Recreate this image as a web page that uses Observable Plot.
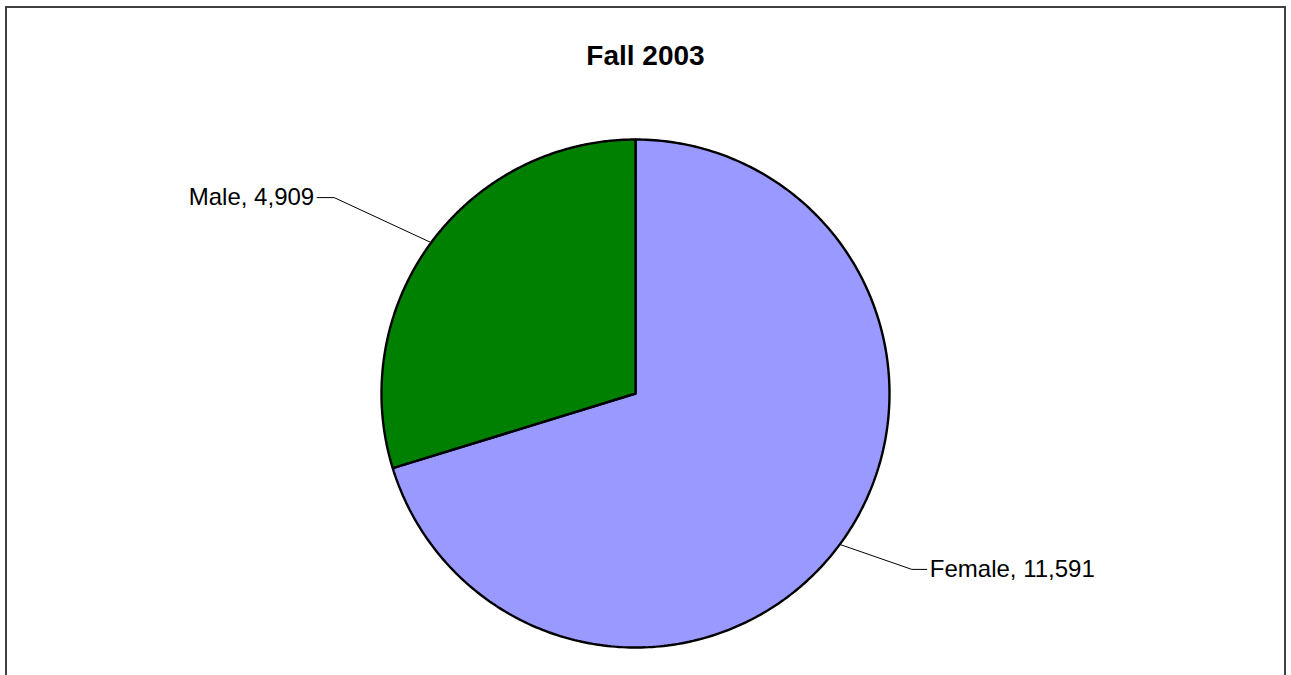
<!DOCTYPE html>
<html>
<head>
<meta charset="utf-8">
<script src="https://cdn.jsdelivr.net/npm/d3@7"></script>
<script src="https://cdn.jsdelivr.net/npm/@observablehq/plot@0.6"></script>
<style>
  html, body { margin: 0; padding: 0; background: #fff; overflow: hidden; }
  #wrap { position: relative; width: 1291px; height: 675px; }
  #frame { position: absolute; left: 5px; top: 6px; width: 1281px; height: 700px;
           border: 2px solid #404040; border-bottom: none; box-sizing: border-box; }
  #title { position: absolute; left: 5px; width: 1281px; top: 40px; text-align: center;
           font: bold 28px Arial, "Liberation Sans", sans-serif; line-height: 32px; color: #000; }
  #chart { position: absolute; left: 0; top: 0; }
</style>
</head>
<body>
<div id="wrap">
  <div id="frame"></div>
  <div id="title">Fall 2003</div>
  <div id="chart"></div>
</div>
<script>
// ---- data ----
const categories = ["Female", "Male"];
const values = [11591, 4909];
const sliceColors = ["#9999FF", "#008000"];
const title = "Fall 2003";

// ---- layout constants ----
const W = 1291, H = 675;
const cx = 635, cy = 393, R = 254;

const pie = d3.pie().sort(null).value(d => d.value)(categories.map((c, i) => ({name: c, value: values[i]})));

// polygon points for each slice, in unit-circle coordinates (y up)
const pts = [];
for (const a of pie) {
  const name = a.data.name;
  pts.push({name, x: 0, y: 0});
  const n = 300;
  for (let k = 0; k <= n; k++) {
    const t = a.startAngle + (a.endAngle - a.startAngle) * k / n;
    pts.push({name, x: Math.sin(t), y: Math.cos(t)});
  }
  pts.push({name, x: 0, y: 0});
}

// leader lines and labels (pixel offsets converted to unit coords)
const offsets = {
  Female: {elbow: [72, 25], run: 15, anchor: "start"},
  Male:   {elbow: [-97, -45], run: -17, anchor: "end"}
};
const leaders = [];
const labels = [];
for (const a of pie) {
  const name = a.data.name;
  const m = (a.startAngle + a.endAngle) / 2;
  const ex = Math.sin(m), ey = Math.cos(m);
  const o = offsets[name];
  const bx = ex + o.elbow[0] / R, by = ey - o.elbow[1] / R;
  const tx = bx + o.run / R;
  leaders.push({name, x: ex, y: ey}, {name, x: bx, y: by}, {name, x: tx, y: by});
  labels.push({name, x: tx + Math.sign(o.run) * 3 / R, y: by,
               text: `${name}, ${d3.format(",")(a.data.value)}`, anchor: o.anchor});
}

const plot = Plot.plot({
  width: W,
  height: H,
  margin: 0,
  x: {domain: [-1, 1], range: [cx - R, cx + R], axis: null},
  y: {domain: [-1, 1], range: [cy + R, cy - R], axis: null},
  color: {domain: categories, range: sliceColors},
  style: {background: "transparent", fontFamily: "Arial, 'Liberation Sans', sans-serif"},
  marks: [
    Plot.line(pts, {x: "x", y: "y", z: "name", fill: "name", stroke: "#000",
                    strokeWidth: 2.4, strokeLinejoin: "miter", curve: "linear"}),
    Plot.line(leaders, {x: "x", y: "y", z: "name", stroke: "#000", strokeWidth: 1, curve: "linear"}),
    Plot.text(labels.filter(d => d.anchor === "start"), {x: "x", y: "y", text: "text",
                    textAnchor: "start", fontSize: 24, fill: "#000"}),
    Plot.text(labels.filter(d => d.anchor === "end"), {x: "x", y: "y", text: "text",
                    textAnchor: "end", fontSize: 24, fill: "#000"})
  ]
});
document.getElementById("chart").appendChild(plot);
document.getElementById("title").textContent = title;
</script>
</body>
</html>
